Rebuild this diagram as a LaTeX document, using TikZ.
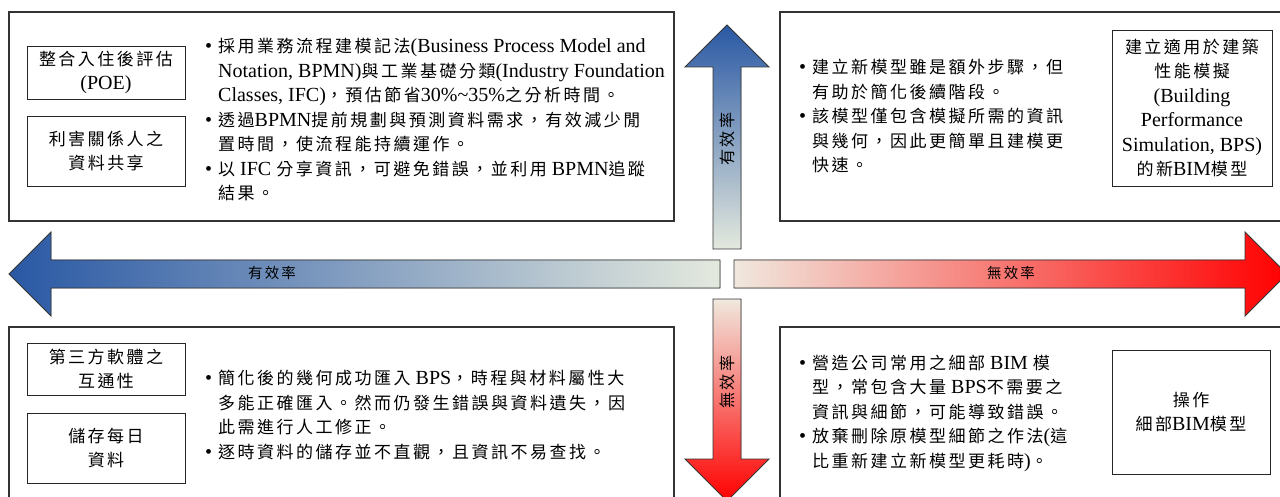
\documentclass[tikz,border=0pt]{standalone}
\usepackage{fontspec}
\setmainfont{Liberation Serif}
\newfontfamily\cjkfont[Scale=0.85,LetterSpace=14.7]{Noto Sans CJK TC}
\usepackage{tikz}

% switch to the CJK face automatically inside mixed text
\XeTeXinterchartokenstate=1
\newXeTeXintercharclass\cjkclass
\makeatletter
\count@="2E80
\loop \XeTeXcharclass\count@=\cjkclass \ifnum\count@<"9FFF \advance\count@ by 1 \repeat
\count@="FF00
\loop \XeTeXcharclass\count@=\cjkclass \ifnum\count@<"FFEF \advance\count@ by 1 \repeat
\makeatother
\XeTeXinterchartoks 0 \cjkclass = {\cjkfont}
\XeTeXinterchartoks 4095 \cjkclass = {\cjkfont}
\XeTeXinterchartoks \cjkclass 0 = {\rmfamily}
\XeTeXinterchartoks \cjkclass 4095 = {\rmfamily}

\newcommand\itm{\makebox[13pt][l]{\textbullet}}
\newcommand\cont{\hspace*{13pt}}

\definecolor{effblue}{RGB}{41,88,164}
\definecolor{efflight}{RGB}{228,233,222}
\definecolor{inefflight}{RGB}{240,232,222}
\definecolor{ineffred}{RGB}{255,0,0}

\tikzstyle{quad}=[draw=black!80,line width=1.2pt]
\tikzstyle{tag}=[draw=black!85,line width=0.9pt,align=center,inner sep=0pt,font=\fontsize{20}{24.5}\selectfont]
\tikzstyle{note}=[anchor=west,align=left,inner sep=0pt,font=\fontsize{20}{24.5}\selectfont]
\tikzstyle{axis}=[draw=black!80,line width=0.9pt]
\tikzstyle{axislabel}=[inner sep=0pt,font=\fontsize{17}{17}\selectfont]
\tikzstyle{vaxislabel}=[inner sep=0pt,rotate=90,font=\fontsize{19}{19}\selectfont]

\begin{document}
\begin{tikzpicture}[x=1pt,y=-1pt]
        \useasboundingbox (0,0) rectangle (1280,497);
        \fill[white] (0,0) rectangle (1280,497);
        \clip (0,0) rectangle (1280,497);

        % four quadrants
        \draw[quad] (9,12) rectangle (674,221);
        \draw[quad] (780,12) rectangle (1300,221);
        \draw[quad] (9,327) rectangle (674,520);
        \draw[quad] (780,327) rectangle (1300,520);

        % efficiency axes
        \filldraw[axis,left color=effblue,right color=efflight]
            (720,260) -- (51,260) -- (51,232) -- (9,274) -- (51,316) -- (51,288) -- (720,288) -- cycle;
        \filldraw[axis,left color=inefflight,right color=ineffred]
            (734,260) -- (1245,260) -- (1245,232) -- (1287,274) -- (1245,316) -- (1245,288) -- (734,288) -- cycle;
        \filldraw[axis,top color=effblue,bottom color=efflight]
            (713,249) -- (713,67) -- (685,67) -- (727,25) -- (769,67) -- (741,67) -- (741,249) -- cycle;
        \filldraw[axis,top color=inefflight,bottom color=ineffred]
            (713,299) -- (713,459) -- (685,459) -- (727,501) -- (769,459) -- (741,459) -- (741,299) -- cycle;

        \node[axislabel] (effleft) at (272,273) {有效率};
        \node[axislabel] (ineffright) at (1011,273) {無效率};
        \node[vaxislabel] (effup) at (727,139) {有\hspace{2.5pt}效\hspace{2.5pt}率};
        \node[vaxislabel] (ineffdown) at (727,382) {無\hspace{2.5pt}效\hspace{2.5pt}率};

        % top left
        \node[tag,minimum width=158,minimum height=53] (poe) at (106,72.5) {整合入住後評估\\(POE)};
        \node[tag,minimum width=158,minimum height=70] (share) at (106,151) {利害關係人之\\資料共享};
        \node[note] (tlnote) at (205,119.5) {\itm 採用業務流程建模記法(Business Process Model and\\
            \cont Notation, BPMN)與工業基礎分類(Industry Foundation\\
            \cont Classes, IFC)，預估節省30\%\char`~35\%之分析時間。\\
            \itm 透過BPMN提前規劃與預測資料需求，有效減少閒\\
            \cont 置時間，使流程能持續運作。\\
            \itm 以 IFC 分享資訊，可避免錯誤，並利用 BPMN追蹤\\
            \cont 結果。};

        % top right
        \node[note] (trnote) at (799,116.5) {\itm 建立新模型雖是額外步驟，但\\
            \cont 有助於簡化後續階段。\\
            \itm 該模型僅包含模擬所需的資訊\\
            \cont 與幾何，因此更簡單且建模更\\
            \cont 快速。};
        \node[tag,minimum width=160,minimum height=156] (bps) at (1192,108)
            {建立適用於建築\\性能模擬\\(Building\\Performance\\Simulation, BPS)\\的新BIM模型};

        % bottom left
        \node[tag,minimum width=158,minimum height=52] (interop) at (106,369) {第三方軟體之\\互通性};
        \node[tag,minimum width=158,minimum height=70] (daily) at (106,448) {儲存每日\\資料};
        \node[note] (blnote) at (205,415) {\itm 簡化後的幾何成功匯入 BPS，時程與材料屬性大\\
            \cont 多能正確匯入。然而仍發生錯誤與資料遺失，因\\
            \cont 此需進行人工修正。\\
            \itm 逐時資料的儲存並不直觀，且資訊不易查找。};

        % bottom right
        \node[note] (brnote) at (799,413) {\itm 營造公司常用之細部 BIM 模\\
            \cont 型，常包含大量 BPS不需要之\\
            \cont 資訊與細節，可能導致錯誤。\\
            \itm 放棄刪除原模型細節之作法(這\\
            \cont 比重新建立新模型更耗時)。};
        \node[tag,minimum width=158,minimum height=124] (ops) at (1191,412) {操作\\細部BIM模型};

      \end{tikzpicture}
\end{document}
